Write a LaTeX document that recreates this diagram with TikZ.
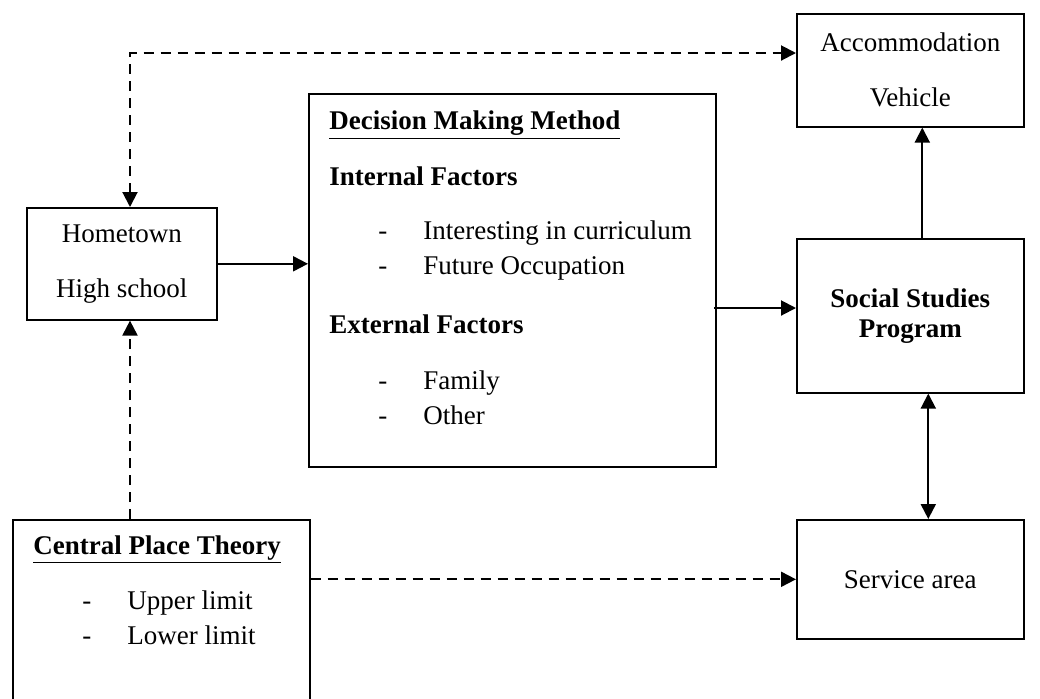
\documentclass[tikz,border=0pt]{standalone}
\usepackage{fontspec}
\setmainfont{Liberation Serif}
\usepackage{tikz}
\usetikzlibrary{positioning,arrows.meta}
\newcommand{\dashitem}[1]{\hspace*{24.5pt}\makebox[22.5pt][l]{-}#1}

\begin{document}
\begin{tikzpicture}[x=0.5pt,y=-0.5pt,
  >={Triangle[length=7.5pt,width=7.5pt]},
  box/.style={draw,black,line width=0.8pt,inner sep=0pt,anchor=north west,align=center,font=\fontsize{13.5}{17.5}\selectfont},
  txt/.style={inner sep=0pt,anchor=north west,align=left,font=\fontsize{13.5}{17.5}\selectfont},
  link/.style={black,line width=1pt},
  dlink/.style={link,dash pattern=on 5pt off 3.5pt}]
\useasboundingbox (0,0) rectangle (1040,698);
\clip (0,0) rectangle (1040,698);
\node[box,minimum width=113.5pt,minimum height=56.5pt] (acc) at (796,13) {Accommodation\\[10pt]Vehicle};
\node[box,minimum width=203.5pt,minimum height=186.5pt] (dm) at (308,93) {};
\node[box,minimum width=95pt,minimum height=56pt] (home) at (26,207) {Hometown\\[10pt]High school};
\node[box,minimum width=113.5pt,minimum height=77pt] (soc) at (796,238) {\textbf{Social Studies}\\[-2.5pt]\textbf{Program}};
\node[box,minimum width=148.5pt,minimum height=110pt] (cpt) at (12,519) {};
\node[box,minimum width=113.5pt,minimum height=59.5pt] (svc) at (796,519) {Service area};
\node[txt] (dmtext) at (329,110) {\underline{\textbf{Decision Making Method}}\\[10.5pt]
  \textbf{Internal Factors}\\[9.5pt]
  \dashitem{Interesting in curriculum}\\
  \dashitem{Future Occupation}\\[12pt]
  \textbf{External Factors}\\[10.5pt]
  \dashitem{Family}\\
  \dashitem{Other}};
\node[txt] (cpttext) at (33,535) {\underline{\textbf{Central Place Theory}}\\[10pt]
  \dashitem{Upper limit}\\
  \dashitem{Lower limit}};
\coordinate (bend) at (130,53);
\coordinate (dmout) at (714,308);
\draw[dlink,<->] (bend |- home.north) -- (bend) -- (bend -| acc.west);
\draw[dlink,->] (bend |- cpt.north) -- (bend |- home.south);
\draw[dlink,->] (svc.west -| cpt.east) -- (svc.west);
\draw[link,->] (home.east) -- (home.east -| dm.west);
\draw[link,->] (dmout) -- (dmout -| soc.west);
\draw[link,->] ([xshift=6pt]soc.north) -- ([xshift=6pt]acc.south);
\draw[link,<->] ([xshift=9pt]soc.south) -- ([xshift=9pt]svc.north);
\end{tikzpicture}
\end{document}
